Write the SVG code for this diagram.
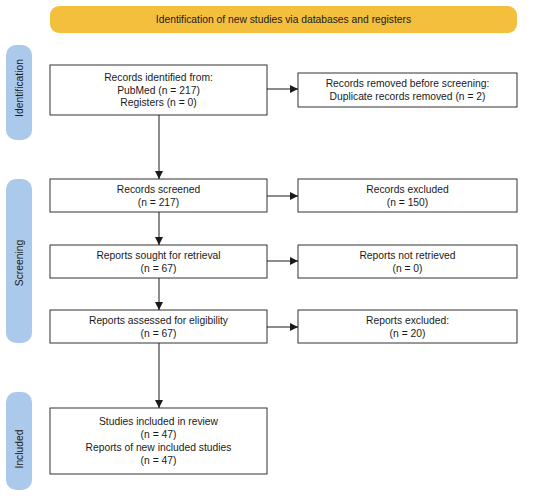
<svg xmlns="http://www.w3.org/2000/svg" width="550" height="496" viewBox="0 0 550 496">
<defs>
<marker id="ah" viewBox="0 0 10 10" refX="10" refY="5" markerWidth="9" markerHeight="8" markerUnits="userSpaceOnUse" orient="auto">
<path d="M0,0 L10,5 L0,10 z" fill="#1a1a1a"/>
</marker>
<style>
.box{fill:#fff;stroke:#333;stroke-width:1}
.pill{fill:#abc9ea}
.t{font-family:"Liberation Sans",Arial,sans-serif;font-size:10.3px;fill:#1a1a1a;text-anchor:middle}
.c{stroke:#1a1a1a;stroke-width:1;fill:none;marker-end:url(#ah)}
</style>
</defs>
<rect width="550" height="496" fill="#fff"/>
<g id="banner">
<rect x="50" y="6" width="467" height="27" rx="9" fill="#f5bf3e"/>
<text class="t" x="283.5" y="23">Identification of new studies via databases and registers</text>
</g>
<g id="phase-identification">
<rect class="pill" x="6" y="45" width="26" height="95" rx="10"/>
<text class="t" transform="translate(22.5,88) rotate(-90)">Identification</text>
</g>
<g id="phase-screening">
<rect class="pill" x="6" y="179" width="26" height="164" rx="10"/>
<text class="t" transform="translate(22.5,263) rotate(-90)">Screening</text>
</g>
<g id="phase-included">
<rect class="pill" x="6" y="392" width="26" height="98" rx="10"/>
<text class="t" transform="translate(22.5,449) rotate(-90)">Included</text>
</g>
<g id="n-identified">
<rect class="box" x="50" y="65" width="217" height="50"/>
<text class="t" x="158.5" y="80.5">Records identified from:</text>
<text class="t" x="158.5" y="94">PubMed (n = 217)</text>
<text class="t" x="158.5" y="106">Registers (n = 0)</text>
</g>
<g id="n-removed">
<rect class="box" x="298" y="73" width="219" height="34"/>
<text class="t" x="407.5" y="87">Records removed before screening:</text>
<text class="t" x="407.5" y="100">Duplicate records removed (n = 2)</text>
</g>
<g id="n-screened">
<rect class="box" x="50" y="179" width="217" height="33"/>
<text class="t" x="158.5" y="193">Records screened</text>
<text class="t" x="158.5" y="206">(n = 217)</text>
</g>
<g id="n-excluded">
<rect class="box" x="298" y="179" width="219" height="33"/>
<text class="t" x="407.5" y="193">Records excluded</text>
<text class="t" x="407.5" y="206">(n = 150)</text>
</g>
<g id="n-sought">
<rect class="box" x="50" y="245" width="217" height="33"/>
<text class="t" x="158.5" y="259">Reports sought for retrieval</text>
<text class="t" x="158.5" y="272">(n = 67)</text>
</g>
<g id="n-notretrieved">
<rect class="box" x="298" y="245" width="219" height="33"/>
<text class="t" x="407.5" y="259">Reports not retrieved</text>
<text class="t" x="407.5" y="272">(n = 0)</text>
</g>
<g id="n-assessed">
<rect class="box" x="50" y="310" width="217" height="33"/>
<text class="t" x="158.5" y="324">Reports assessed for eligibility</text>
<text class="t" x="158.5" y="337">(n = 67)</text>
</g>
<g id="n-reportsexcluded">
<rect class="box" x="298" y="310" width="219" height="33"/>
<text class="t" x="407.5" y="324">Reports excluded:</text>
<text class="t" x="407.5" y="337">(n = 20)</text>
</g>
<g id="n-included">
<rect class="box" x="50" y="408" width="217" height="66"/>
<text class="t" x="158.5" y="425">Studies included in review</text>
<text class="t" x="158.5" y="438">(n = 47)</text>
<text class="t" x="158.5" y="451">Reports of new included studies</text>
<text class="t" x="158.5" y="464">(n = 47)</text>
</g>
<g id="connectors">
<line class="c" x1="267" y1="89" x2="298" y2="89"/>
<line class="c" x1="159" y1="115" x2="159" y2="179"/>
<line class="c" x1="267" y1="196" x2="298" y2="196"/>
<line class="c" x1="159" y1="212" x2="159" y2="245"/>
<line class="c" x1="267" y1="261" x2="298" y2="261"/>
<line class="c" x1="159" y1="278" x2="159" y2="310"/>
<line class="c" x1="267" y1="327" x2="298" y2="327"/>
<line class="c" x1="159" y1="343" x2="159" y2="408"/>
</g>
</svg>
